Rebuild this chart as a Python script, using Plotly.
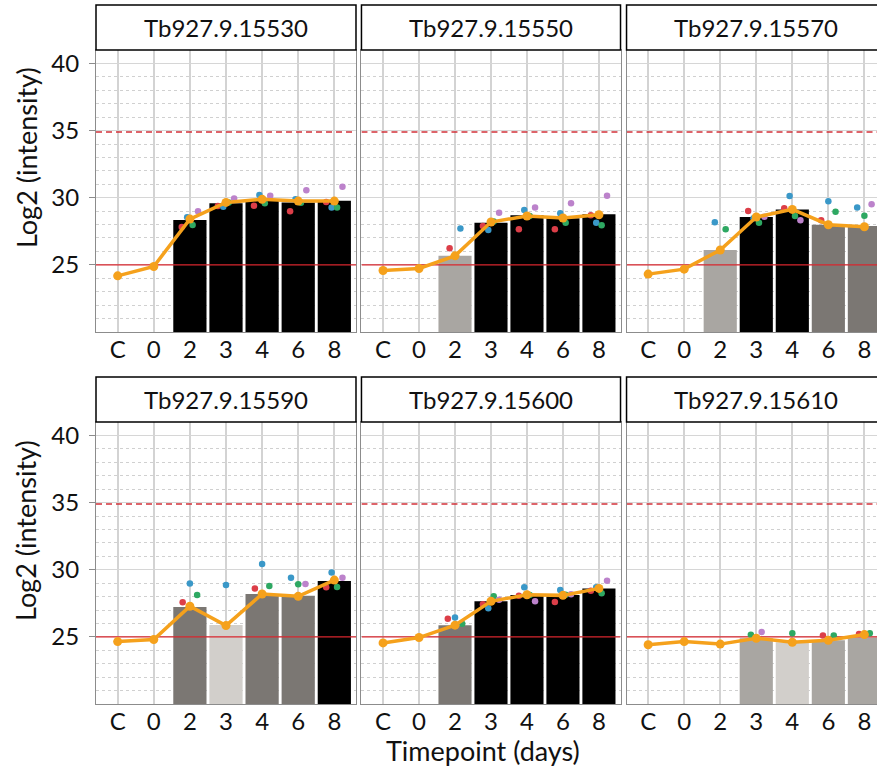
import plotly.graph_objects as go

# ---------------- data ----------------
TIMEPOINTS = ["C", "0", "2", "3", "4", "6", "8"]
GENES = ["Tb927.9.15530", "Tb927.9.15550", "Tb927.9.15570",
         "Tb927.9.15590", "Tb927.9.15600", "Tb927.9.15610"]

# mean log2 intensity (orange line)
MEAN_15530 = [24.18, 24.88, 28.41, 29.65, 29.88, 29.75, 29.75]
MEAN_15550 = [24.58, 24.73, 25.67, 28.19, 28.64, 28.49, 28.73]
MEAN_15570 = [24.31, 24.68, 26.11, 28.56, 29.13, 27.99, 27.84]
MEAN_15590 = [24.65, 24.80, 27.28, 25.84, 28.19, 28.02, 29.23]
MEAN_15600 = [24.55, 24.95, 25.87, 27.65, 28.14, 28.09, 28.61]
MEAN_15610 = [24.41, 24.65, 24.46, 24.90, 24.60, 24.75, 25.17]

# bar heights (None = no bar)
BAR_15530 = [None, None, 28.34, 29.58, 29.75, 29.65, 29.77]
BAR_15550 = [None, None, 25.67, 28.14, 28.69, 28.47, 28.76]
BAR_15570 = [None, None, 26.11, 28.56, 29.13, 27.99, 27.90]
BAR_15590 = [None, None, 27.23, 25.89, 28.19, 28.07, 29.16]
BAR_15600 = [None, None, 25.87, 27.65, 28.12, 28.12, 28.61]
BAR_15610 = [None, None, None, 24.90, 24.60, 24.75, 24.95]

# bar shade class
CLS_15530 = [None, None, "k", "k", "k", "k", "k"]
CLS_15550 = [None, None, "mid", "k", "k", "k", "k"]
CLS_15570 = [None, None, "mid", "k", "k", "dark", "dark"]
CLS_15590 = [None, None, "dark", "light", "dark", "dark", "k"]
CLS_15600 = [None, None, "dark", "k", "k", "k", "k"]
CLS_15610 = [None, None, None, "mid", "light", "mid", "mid"]

# replicate values (red, blue, green, purple)
RED_15530 = [None, None, 27.82, 29.38, 29.40, 28.99, 29.68]
BLUE_15530 = [None, None, 28.54, 29.33, 30.20, 29.88, 29.28]
GREEN_15530 = [None, None, 27.97, 29.65, 29.58, 29.63, 29.28]
PURPLE_15530 = [None, None, 28.99, 29.95, 30.15, 30.55, 30.81]

RED_15550 = [None, None, 26.24, 27.90, 27.65, 27.65, 28.69]
BLUE_15550 = [None, None, 27.70, 27.60, 29.08, 28.84, 28.14]
GREEN_15550 = [None, None, None, 28.22, 28.64, 28.14, 27.95]
PURPLE_15550 = [None, None, None, 28.88, 29.28, 29.58, 30.15]

RED_15570 = [None, None, None, 29.01, 29.21, 28.32, None]
BLUE_15570 = [None, None, 28.17, 28.47, 30.12, 29.73, 29.28]
GREEN_15570 = [None, None, 27.65, 28.14, 28.64, 28.96, 28.66]
PURPLE_15570 = [None, None, None, 28.59, 28.32, None, 29.51]

RED_15590 = [None, None, 27.58, None, 28.61, None, 28.69]
BLUE_15590 = [None, None, 28.98, 28.86, 30.42, 29.40, 29.80]
GREEN_15590 = [None, None, 28.12, None, 28.79, 28.91, 28.71]
PURPLE_15590 = [None, None, None, None, None, 28.93, 29.40]

RED_15600 = [None, None, 26.34, 27.43, 28.07, 27.60, 28.44]
BLUE_15600 = [None, None, 26.44, 27.13, 28.69, 28.49, 28.69]
GREEN_15600 = [None, None, 25.97, 28.02, 28.12, 28.14, 28.24]
PURPLE_15600 = [None, None, None, 27.77, 27.65, 28.17, 29.18]

RED_15610 = [None, None, None, None, None, 25.10, 25.22]
BLUE_15610 = [None, None, None, None, None, None, None]
GREEN_15610 = [None, None, None, 25.15, 25.27, 25.10, 25.27]
PURPLE_15610 = [None, None, None, 25.37, None, None, None]

THRESHOLD_SOLID = 25
THRESHOLD_DASHED = 34.9
Y_TICKS = [25, 30, 35, 40]

# ---------------- styles ----------------
FONT = "Lato, 'Open Sans', sans-serif"
BAR_COLORS = {"k": "#000000", "dark": "#7B7773", "mid": "#A9A6A2", "light": "#D2CFCB"}
REP_COLORS = ["#DC3E48", "#3A98C8", "#2EA862", "#BC82CB"]
ORANGE = "#F5A11C"
DODGE = 0.6
Y_RANGE = [20, 41]
X_FULL = [-0.6, 6.6]
X_RANGES = [X_FULL, X_FULL, [-0.6, 6.35], X_FULL, X_FULL, [-0.6, 6.35]]

W, H = 877, 769
ML, MR, MT, MB = 96, 0, 5, 65
COL_DOM = [[0.0, 0.3329], [0.3399, 0.6716], [0.6793, 1.0]]
ROW_DOM = [[0.5322, 0.9356], [0.0, 0.4034]]
STRIP_TOP = [1.0, 0.4678]

PANELS = [
    (MEAN_15530, BAR_15530, CLS_15530, [RED_15530, BLUE_15530, GREEN_15530, PURPLE_15530]),
    (MEAN_15550, BAR_15550, CLS_15550, [RED_15550, BLUE_15550, GREEN_15550, PURPLE_15550]),
    (MEAN_15570, BAR_15570, CLS_15570, [RED_15570, BLUE_15570, GREEN_15570, PURPLE_15570]),
    (MEAN_15590, BAR_15590, CLS_15590, [RED_15590, BLUE_15590, GREEN_15590, PURPLE_15590]),
    (MEAN_15600, BAR_15600, CLS_15600, [RED_15600, BLUE_15600, GREEN_15600, PURPLE_15600]),
    (MEAN_15610, BAR_15610, CLS_15610, [RED_15610, BLUE_15610, GREEN_15610, PURPLE_15610]),
]

fig = go.Figure()
layout = {}
shapes = []
annotations = []

for i, (mean, bars, cls, reps) in enumerate(PANELS):
    r, c = divmod(i, 3)
    sfx = "" if i == 0 else str(i + 1)
    xa, ya = "x" + sfx, "y" + sfx
    idx = list(range(len(TIMEPOINTS)))

    # bars
    bx = [k for k in idx if bars[k] is not None]
    fig.add_trace(go.Bar(
        x=bx, y=[bars[k] for k in bx], width=0.92,
        marker=dict(color=[BAR_COLORS[cls[k]] for k in bx], line=dict(width=0)),
        xaxis=xa, yaxis=ya, showlegend=False, hoverinfo="skip"))

    # thresholds
    fig.add_trace(go.Scatter(
        x=X_FULL, y=[THRESHOLD_SOLID] * 2, mode="lines",
        line=dict(color="#D8262E", width=1.3), xaxis=xa, yaxis=ya,
        showlegend=False, hoverinfo="skip"))
    fig.add_trace(go.Scatter(
        x=X_FULL, y=[THRESHOLD_DASHED] * 2, mode="lines",
        line=dict(color="#D2323A", width=1.5, dash="6px,4px"), xaxis=xa, yaxis=ya,
        showlegend=False, hoverinfo="skip"))

    # replicate dots, dodged among the replicates present at each timepoint
    rep_x = [[] for _ in reps]
    rep_y = [[] for _ in reps]
    for k in idx:
        present = [j for j, rv in enumerate(reps) if rv[k] is not None]
        n = len(present)
        for s, j in enumerate(present):
            off = -DODGE / 2 + DODGE / n * (s + 0.5)
            rep_x[j].append(k + off)
            rep_y[j].append(reps[j][k])
    for j in range(len(reps)):
        fig.add_trace(go.Scatter(
            x=rep_x[j], y=rep_y[j], mode="markers",
            marker=dict(color=REP_COLORS[j], size=6.5),
            xaxis=xa, yaxis=ya, showlegend=False, hoverinfo="skip"))

    # mean line
    fig.add_trace(go.Scatter(
        x=idx, y=mean, mode="lines+markers",
        line=dict(color=ORANGE, width=3.5), marker=dict(color=ORANGE, size=9),
        xaxis=xa, yaxis=ya, showlegend=False, hoverinfo="skip"))

    cd = COL_DOM[c]
    rd = ROW_DOM[r]
    layout["xaxis" + sfx] = dict(
        domain=cd, anchor=ya, range=X_RANGES[i], automargin=False,
        tickmode="array", tickvals=idx, ticktext=TIMEPOINTS,
        ticklabelstandoff=-4,
        showgrid=True, gridcolor="#D3D3D3", gridwidth=1.5,
        showline=True, mirror=True, linecolor="#8C8C8C", linewidth=1,
        ticks="", zeroline=False,
        tickfont=dict(family=FONT, size=24, color="#111111"))
    layout["yaxis" + sfx] = dict(
        domain=rd, anchor=xa, range=Y_RANGE, automargin=False,
        tickmode="array", tickvals=Y_TICKS,
        showticklabels=(c == 0), ticklabelstandoff=5,
        ticks="outside" if c == 0 else "", ticklen=6, tickcolor="#8C8C8C",
        showgrid=True, gridcolor="#D6D6D6", gridwidth=1.3,
        minor=dict(tickmode="linear", tick0=0, dtick=1, showgrid=True,
                   gridcolor="#D0D0D0", griddash="dot", gridwidth=1, ticks=""),
        showline=True, mirror=(c != 2), linecolor="#8C8C8C", linewidth=1,
        zeroline=False,
        tickfont=dict(family=FONT, size=24, color="#111111"))

    # strip header
    x1 = cd[1] if c != 2 else 1.02
    shapes.append(dict(type="rect", xref="paper", yref="paper",
                       x0=cd[0], x1=x1, y0=rd[1], y1=STRIP_TOP[r],
                       line=dict(color="#000000", width=1.5), fillcolor="#FFFFFF",
                       layer="above"))
    full_w = (X_FULL[1] - X_FULL[0]) / (X_RANGES[i][1] - X_RANGES[i][0]) * (cd[1] - cd[0])
    annotations.append(dict(text=GENES[i], xref="paper", yref="paper",
                            x=cd[0] + full_w / 2, y=(rd[1] + STRIP_TOP[r]) / 2,
                            xanchor="center", yanchor="middle", showarrow=False,
                            font=dict(family=FONT, size=24, color="#111111")))

# axis titles
for yc in [0.7811, 0.2475]:
    annotations.append(dict(text="Log2 (intensity)", xref="paper", yref="paper",
                            x=0, xshift=-70, y=yc, textangle=-90,
                            xanchor="center", yanchor="middle", showarrow=False,
                            font=dict(family=FONT, size=27, color="#111111")))
annotations.append(dict(text="Timepoint (days)", xref="paper", yref="paper",
                        x=0.4949, y=-0.0672, xanchor="center", yanchor="middle",
                        showarrow=False, font=dict(family=FONT, size=27, color="#111111")))

fig.update_layout(
    template="none",
    width=W, height=H,
    margin=dict(l=ML, r=MR, t=MT, b=MB, pad=0, autoexpand=False),
    paper_bgcolor="#FFFFFF", plot_bgcolor="#FFFFFF",
    barmode="overlay", showlegend=False,
    shapes=shapes, annotations=annotations,
    font=dict(family=FONT),
    **layout)

fig.write_html("out.html",
               config={"displayModeBar": False},
               post_script="document.body.style.margin='0px';document.body.style.overflow='hidden';")
